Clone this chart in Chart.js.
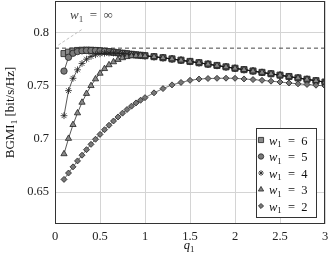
<!DOCTYPE html>
<html lang="en">
<head>
<meta charset="utf-8"/>
<title>BGMI vs q1</title>
<script src="https://cdn.jsdelivr.net/npm/chart.js"></script>
<style>
    html, body { margin: 0; padding: 0; background: #fff; }
    #wrap { width: 328px; height: 259px; position: relative; }
</style>
</head>
<body>
<div id="wrap"><canvas id="chart"></canvas></div>
<script>
// q1 sample points (denser below 1)
const q1 = [0.1,0.15,0.2,0.25,0.3,0.35,0.4,0.45,0.5,0.55,0.6,0.65,0.7,0.75,0.8,0.85,0.9,0.95,1.0,
            1.1,1.2,1.3,1.4,1.5,1.6,1.7,1.8,1.9,2.0,2.1,2.2,2.3,2.4,2.5,2.6,2.7,2.8,2.9,3.0];

const w6 = [.7805,.7818,.7828,.7834,.7836,.7837,.7836,.7834,.7831,.7827,.7823,.7818,.7813,.7808,.7803,.7798,.7793,.7789,.7785,
            .7776,.7766,.7755,.7743,.7731,.7719,.7706,.7693,.768,.7667,.7654,.7641,.7628,.7615,.7602,.7589,.7576,.7563,.755,.7537];
const w5 = [.764,.777,.7808,.7824,.7831,.7834,.7834,.7833,.783,.7826,.7822,.7817,.7812,.7807,.7802,.7797,.7792,.7788,.7784,
            .7775,.7765,.7754,.7742,.773,.7718,.7705,.7692,.7679,.7666,.7653,.764,.7627,.7614,.7601,.7588,.7575,.7562,.7549,.7536];
const w4 = [.722,.7456,.7572,.7652,.7712,.7752,.7778,.7794,.7803,.7808,.781,.781,.7808,.7805,.7801,.7796,.7791,.7787,.7783,
            .7774,.7764,.7753,.7741,.7729,.7717,.7704,.7691,.7678,.7665,.7652,.7639,.7626,.7613,.76,.7587,.7574,.7561,.7548,.7535];
const w3 = [.686,.7005,.7135,.7245,.7345,.7428,.7502,.7565,.7618,.7662,.7698,.7726,.7748,.7764,.7775,.7782,.7786,.7786,.7783,
            .7775,.7765,.7754,.7742,.773,.7718,.7705,.7692,.7679,.7666,.7653,.764,.7627,.7614,.7601,.7588,.7575,.7562,.7549,.7536];
const w2 = [.662,.668,.6738,.6794,.6848,.69,.695,.6998,.7044,.7088,.713,.717,.7208,.7244,.7278,.731,.734,.7365,.739,
            .7435,.7475,.751,.7533,.7553,.7565,.757,.7572,.7573,.7572,.7566,.756,.7553,.7545,.7537,.7528,.752,.7514,.7507,.75];

// w1 = infinity bound and its pointer
const infBound = 0.7856;
const infPtrQ = [0.037, 0.315];
const infPtrV = [0.7885, 0.8041];

const xTicks = [0, 0.5, 1, 1.5, 2, 2.5, 3];
const yTicks = [0.65, 0.7, 0.75, 0.8];

const FONT = "'Liberation Serif', 'DejaVu Serif', serif";
const EQ = '\u2002=\u2002';

const pts = (xs, ys) => xs.map((x, i) => ({x: x, y: ys[i]}));

const series = [
    {name: '6', data: w6, style: 'rect',     r: 4.3, bg: '#8a8a8a'},
    {name: '5', data: w5, style: 'circle',   r: 3.2, bg: '#7a7a7a'},
    {name: '4', data: w4, style: 'star',     r: 3.4, bg: '#111'},
    {name: '3', data: w3, style: 'triangle', r: 3.6, bg: '#888'},
    {name: '2', data: w2, style: 'rectRot',  r: 3.0, bg: '#777'}
];

// draw "w_1 = x" style strings: parts are [text, 'n'|'i'|'s']
function mathText(ctx, x, y, parts, size) {
    let cx = x;
    parts.forEach(([t, s]) => {
        let fs = s === 's' ? size * 0.7 : size;
        ctx.font = (s === 'i' ? 'italic ' : '') + fs + 'px ' + FONT;
        let dy = s === 's' ? size * 0.22 : 0;
        ctx.fillText(t, cx, y + dy);
        cx += ctx.measureText(t).width;
    });
    return cx - x;
}
function mathWidth(ctx, parts, size) {
    let w = 0;
    parts.forEach(([t, s]) => {
        let fs = s === 's' ? size * 0.7 : size;
        ctx.font = (s === 'i' ? 'italic ' : '') + fs + 'px ' + FONT;
        w += ctx.measureText(t).width;
    });
    return w;
}

const decor = {
    id: 'decor',
    afterDraw(chart) {
        const ctx = chart.ctx;
        const a = chart.chartArea;
        ctx.save();
        // frame
        ctx.strokeStyle = '#333';
        ctx.lineWidth = 1;
        ctx.strokeRect(a.left + 0.5, a.top + 0.5, a.right - a.left - 1, a.bottom - a.top - 1);

        ctx.textBaseline = 'alphabetic';
        ctx.textAlign = 'left';

        // annotation
        ctx.fillStyle = '#444';
        mathText(ctx, 70, 19, [['w', 'i'], ['1', 's'], [EQ + '\u221E', 'n']], 13);

        // legend
        const lx = 256, ly = 128, lw = 60, lh = 89;
        ctx.fillStyle = '#fff';
        ctx.fillRect(lx, ly, lw, lh);
        ctx.strokeStyle = '#333';
        ctx.strokeRect(lx + 0.5, ly + 0.5, lw, lh);
        series.forEach((s, i) => {
            const cy = 140 + i * 16.5;
            ctx.fillStyle = s.bg;
            ctx.strokeStyle = '#222';
            ctx.lineWidth = 0.8;
            Chart.helpers.drawPoint(ctx, {pointStyle: s.style, radius: s.r * 0.85, borderWidth: 0.8}, 261, cy);
            ctx.fillStyle = '#111';
            mathText(ctx, 269, cy + 4.5, [['w', 'i'], ['1', 's'], [EQ + s.name, 'n']], 12.5);
        });

        // axis titles
        ctx.fillStyle = '#111';
        const xt = [['q', 'i'], ['1', 's']];
        mathText(ctx, 189 - mathWidth(ctx, xt, 12.5) / 2, 249, xt, 12.5);

        const yt = [['BGMI', 'n'], ['1', 's'], [' [bit/s/Hz]', 'n']];
        const yw = mathWidth(ctx, yt, 13);
        ctx.translate(14, (a.top + a.bottom) / 2);
        ctx.rotate(-Math.PI / 2);
        mathText(ctx, -yw / 2, 0, yt, 13);
        ctx.restore();
    }
};

const datasets = series.slice().reverse().map(s => ({
    label: 'w1 = ' + s.name,
    data: pts(q1, s.data),
    borderColor: s.name === '2' ? '#333' : '#111',
    borderWidth: 0.7,
    pointStyle: s.style,
    pointRadius: s.r,
    pointBackgroundColor: s.bg,
    pointBorderColor: '#222',
    pointBorderWidth: 0.8,
    tension: 0
}));
datasets.push({
    label: 'bound',
    data: pts([0, 3], [infBound, infBound]),
    borderColor: '#333', borderWidth: 0.9, borderDash: [4, 3], pointRadius: 0
});
datasets.push({
    label: 'pointer',
    data: pts(infPtrQ, infPtrV),
    borderColor: '#bbb', borderWidth: 0.9, borderDash: [3, 2], pointRadius: 0
});

// keep tick labels from pushing the plot area in
function noPad(s) {
    s.paddingLeft = 0; s.paddingRight = 0; s.paddingTop = 0; s.paddingBottom = 0;
}

new Chart(document.getElementById('chart'), {
    type: 'line',
    data: {datasets: datasets},
    options: {
        responsive: true,
        maintainAspectRatio: false,
        animation: false,
        devicePixelRatio: 1,
        layout: {autoPadding: false, padding: {left: 0, right: 3, top: 1, bottom: 0}},
        plugins: {legend: {display: false}, tooltip: {enabled: false}},
        scales: {
            x: {
                type: 'linear', min: 0, max: 3,
                afterBuildTicks: s => { s.ticks = xTicks.map(v => ({value: v})); },
                afterFit: s => { s.height = 35; noPad(s); },
                grid: {color: '#d4d4d4', drawTicks: false},
                border: {display: false},
                ticks: {padding: 5, maxRotation: 0, color: '#222', font: {family: FONT, size: 12.5},
                        callback: v => String(v)}
            },
            y: {
                type: 'linear', min: 0.62, max: 0.83,
                afterBuildTicks: s => { s.ticks = yTicks.map(v => ({value: v})); },
                afterFit: s => { s.width = 55; noPad(s); },
                grid: {color: '#d4d4d4', drawTicks: false},
                border: {display: false},
                ticks: {padding: 6, color: '#222', font: {family: FONT, size: 12.5},
                        callback: v => String(v)}
            }
        }
    },
    plugins: [decor]
});
</script>
</body>
</html>
